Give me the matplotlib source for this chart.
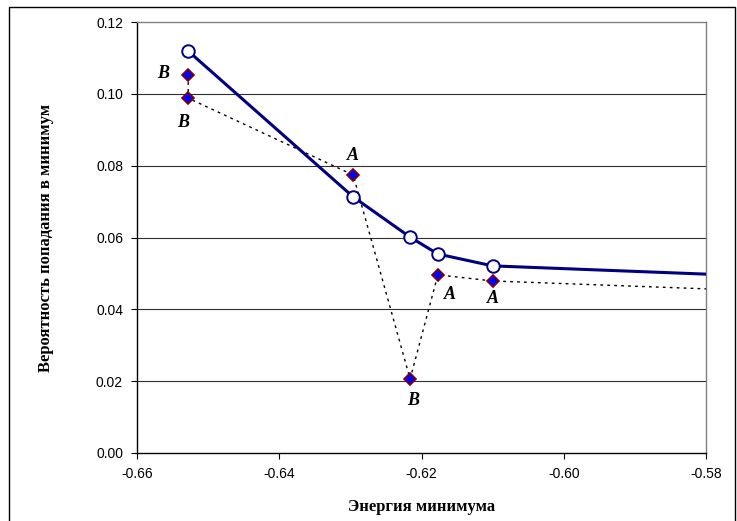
import matplotlib.pyplot as plt
from matplotlib.patches import Rectangle

# solid series (open circles), last point is the line end at the axis edge
energy_main = [-0.6528, -0.6296, -0.6216, -0.6177, -0.6100, -0.5800]
prob_main = [0.1119, 0.0713, 0.0601, 0.0554, 0.0521, 0.0498]

# dotted series (diamonds)
energy_pts = [-0.6528, -0.6528, -0.6296, -0.6216, -0.6177, -0.6100, -0.5800]
prob_pts = [0.1052, 0.0988, 0.0774, 0.0206, 0.0496, 0.0479, 0.0457]
pt_labels = ["B", "B", "A", "B", "A", "A", None]
label_offsets = [(-25, 2), (-5, -24), (0, 20), (3, -21), (12, -20), (0, -18), None]

xticks = [-0.66, -0.64, -0.62, -0.60, -0.58]
yticks = [0.00, 0.02, 0.04, 0.06, 0.08, 0.10, 0.12]

fig = plt.figure(figsize=(7.37, 5.21), dpi=100)
ax = fig.add_axes([137/737, 68/521, 569/737, 431/521])

# figure frame
fig.patches.append(Rectangle((9/737, -0.01), 726/737, (514/521) + 0.01,
                             transform=fig.transFigure, fill=False,
                             edgecolor="black", linewidth=1.0))

for yv in yticks[1:-1]:
    ax.axhline(yv, color="#303030", linewidth=0.8, zorder=1)

ax.plot(energy_pts, prob_pts, color="black", linewidth=1.0,
        linestyle=(0, (2, 3)), marker="D", markersize=6,
        markerfacecolor="#0000ff", markeredgecolor="#800000",
        markeredgewidth=1.2, markevery=list(range(6)), zorder=3)

ax.plot(energy_main, prob_main, color="#000080", linewidth=2.2,
        marker="o", markersize=9, markerfacecolor="white",
        markeredgecolor="#000080", markeredgewidth=1.4,
        markevery=list(range(5)), zorder=4)

for xv, yv, lab, off in zip(energy_pts, prob_pts, pt_labels, label_offsets):
    if lab is None:
        continue
    ax.annotate(lab, (xv, yv), xytext=off, textcoords="offset pixels",
                ha="center", va="center", fontsize=13, fontweight="bold",
                fontstyle="italic", family="Liberation Serif", zorder=5)

ax.set_xlim(-0.66, -0.58)
ax.set_ylim(0.0, 0.12)
ax.set_xticks(xticks)
ax.set_yticks(yticks)
ax.set_xticklabels([f"{v:.2f}" for v in xticks], family="Liberation Sans", fontsize=10)
ax.set_yticklabels([f"{v:.2f}" for v in yticks], family="Liberation Sans", fontsize=10)
ax.tick_params(direction="out", length=4, width=0.8, pad=6)

for side in ["top", "right"]:
    ax.spines[side].set_color("#808080")
    ax.spines[side].set_linewidth(1.0)
for side in ["left", "bottom"]:
    ax.spines[side].set_color("black")
    ax.spines[side].set_linewidth(1.0)

ax.set_xlabel("Энергия минимума", family="Liberation Serif", fontweight="bold",
              fontsize=12, labelpad=13)
ax.set_ylabel("Вероятность попадания в минимум", family="Liberation Serif",
              fontweight="bold", fontsize=12, labelpad=30)

fig.savefig("out.png", dpi=100)
